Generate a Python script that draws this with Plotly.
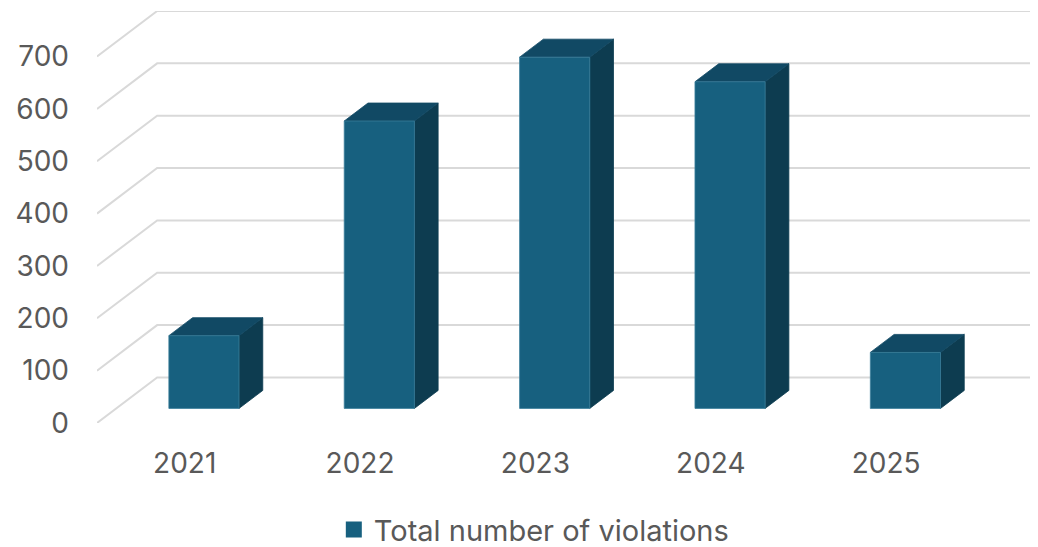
import plotly.graph_objects as go

# ---- data ----
categories = ["2021", "2022", "2023", "2024", "2025"]
values = [139, 549, 671, 624, 107]
y_ticks = [0, 100, 200, 300, 400, 500, 600, 700]
series_name = "Total number of violations"

# ---- 3D oblique projection constants (in axis units) ----
DEPTH_DX = 0.343      # x shift of back wall relative to front plane (category units)
DEPTH_DY = 87.0       # y shift of back wall relative to front plane (value units)
BAR_FRONT = 0.32      # fraction of depth where bar front faces sit
BAR_BACK = 0.715      # fraction of depth where bar back faces sit
BAR_W = 0.4

C_FRONT = "#17607f"
C_TOP = "#114964"
C_SIDE = "#0d3c50"
C_EDGE = "#3a7d9a"
C_GRID = "#d9d9d9"
FONT = "Inter, Roboto, sans-serif"
TXT = "#595959"

n = len(categories)
xs = list(range(n))
x_left = -0.5
x_right = n - 0.5 + DEPTH_DX

fig = go.Figure()

# gridlines: diagonal on the left floor/wall edge, then horizontal on back wall
gx, gy = [], []
for v in y_ticks:
    gx += [x_left, x_left + DEPTH_DX, x_right, None]
    gy += [v, v + DEPTH_DY, v + DEPTH_DY, None]
fig.add_trace(go.Scatter(x=gx, y=gy, mode="lines", line=dict(color=C_GRID, width=2),
                         hoverinfo="skip", showlegend=False))

fdx, fdy = BAR_FRONT * DEPTH_DX, BAR_FRONT * DEPTH_DY
bdx, bdy = BAR_BACK * DEPTH_DX, BAR_BACK * DEPTH_DY
h = BAR_W / 2


def poly(px, py, color, line_color):
    fig.add_trace(go.Scatter(
        x=px + [px[0]], y=py + [py[0]], mode="lines", fill="toself",
        fillcolor=color, line=dict(color=line_color, width=0.8),
        hoverinfo="skip", showlegend=False))


for i, v in zip(xs, values):
    # side face
    poly([i + h + fdx, i + h + fdx, i + h + bdx, i + h + bdx],
         [fdy, v + fdy, v + bdy, bdy], C_SIDE, C_SIDE)
    # top face
    poly([i - h + fdx, i + h + fdx, i + h + bdx, i - h + bdx],
         [v + fdy, v + fdy, v + bdy, v + bdy], C_TOP, C_TOP)
    # front face
    poly([i - h + fdx, i + h + fdx, i + h + fdx, i - h + fdx],
         [fdy, fdy, v + fdy, v + fdy], C_FRONT, C_EDGE)

# legend entry
fig.add_trace(go.Scatter(x=[None], y=[None], mode="markers", name=series_name,
                         marker=dict(symbol="square", size=18, color=C_FRONT),
                         showlegend=True))

fig.update_layout(
    width=1030, height=547,
    margin=dict(l=89, r=4, t=3, b=132, autoexpand=False),
    paper_bgcolor="white", plot_bgcolor="white",
    font=dict(family=FONT, size=28, color=TXT),
    showlegend=True,
    legend=dict(orientation="h", xref="container", yref="paper",
                x=0.5105, xanchor="center", y=-0.259, yanchor="middle",
                font=dict(size=29, color=TXT), bgcolor="rgba(0,0,0,0)",
                itemwidth=30),
)
fig.update_xaxes(range=[x_left, x_right], tickvals=xs, ticktext=categories,
                 showgrid=False, zeroline=False, showline=False, ticks="",
                 automargin=False,
                 ticklabelstandoff=21, tickfont=dict(size=28, color=TXT))
fig.update_yaxes(range=[0, 700 + DEPTH_DY], tickvals=y_ticks,
                 ticktext=[str(t) for t in y_ticks],
                 showgrid=False, zeroline=False, showline=False, ticks="",
                 automargin=False,
                 ticklabelstandoff=27, tickfont=dict(size=28, color=TXT))

fig.write_html("out.html")
